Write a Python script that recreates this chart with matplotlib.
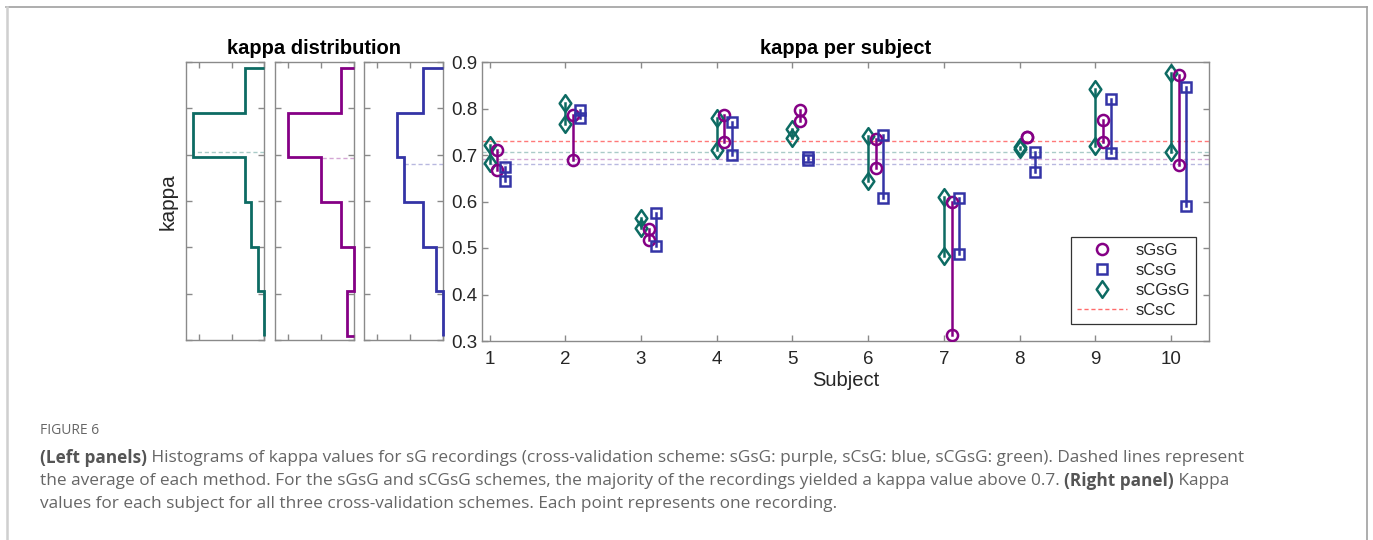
import numpy as np
import matplotlib
matplotlib.use("Agg")
import matplotlib.pyplot as plt
from matplotlib.lines import Line2D
from matplotlib.path import Path

# ---------------- data ----------------
subjects = [1, 2, 3, 4, 5, 6, 7, 8, 9, 10]
schemes = ["sGsG", "sCsG", "sCGsG"]
# two recordings per subject
sGsG = [[0.711, 0.668], [0.786, 0.689], [0.540, 0.517], [0.786, 0.729], [0.797, 0.774],
        [0.734, 0.671], [0.600, 0.313], [0.739, 0.739], [0.775, 0.729], [0.872, 0.678]]
sCsG = [[0.675, 0.645], [0.797, 0.779], [0.576, 0.504], [0.772, 0.701], [0.695, 0.689],
        [0.742, 0.607], [0.607, 0.487], [0.706, 0.663], [0.820, 0.704], [0.846, 0.590]]
sCGsG = [[0.722, 0.682], [0.812, 0.767], [0.564, 0.544], [0.779, 0.711], [0.755, 0.736],
         [0.741, 0.644], [0.610, 0.483], [0.717, 0.712], [0.843, 0.719], [0.876, 0.706]]
sCsC_mean = 0.731
hist_edges = [0.308, 0.405, 0.501, 0.598, 0.694, 0.791, 0.888]
yticks = [0.3, 0.4, 0.5, 0.6, 0.7, 0.8, 0.9]

# ---------------- style ----------------
GREEN = "#0d6b63"
PURPLE = "#850085"
BLUE = "#3434a6"
RED = "#ff6b6b"
SPINE = "#8a8a8a"
TXT = "#262626"
FONT = "Liberation Sans"

plt.rcParams["font.family"] = [FONT, "DejaVu Sans"]

# diamond a bit wider than matplotlib's thin diamond (MATLAB style)
DIAMOND = Path([(0, 1), (0.7, 0), (0, -1), (-0.7, 0), (0, 1)],
               [Path.MOVETO, Path.LINETO, Path.LINETO, Path.LINETO, Path.CLOSEPOLY])

fig = plt.figure(figsize=(13.73, 5.40), dpi=100)
W, H = 1373.0, 540.0

def ax_rect(x0, y0, x1, y1):
    return [x0 / W, 1 - y1 / H, (x1 - x0) / W, (y1 - y0) / H]

def style_axes(ax):
    for sp in ax.spines.values():
        sp.set_color(SPINE)
        sp.set_linewidth(1.0)
    ax.tick_params(direction="in", length=4, width=1.0, color=SPINE,
                   top=True, right=True, labelcolor=TXT, labelsize=13.5)

# ---------------- histogram panels ----------------
hist_specs = [(sCGsG, GREEN, (186, 62, 264, 340)),
              (sGsG, PURPLE, (275, 62, 354, 340)),
              (sCsG, BLUE, (364, 62, 443, 340))]
for vals, col, rect in hist_specs:
    ax = fig.add_axes(ax_rect(*rect))
    flat = np.array(vals).ravel()
    counts, _ = np.histogram(flat, bins=hist_edges)
    ax.stairs(counts, hist_edges, orientation="horizontal", baseline=0,
              color=col, linewidth=2.0, clip_on=False, zorder=3)
    m = flat.mean()
    idx = int(np.clip(np.searchsorted(hist_edges, m) - 1, 0, len(counts) - 1))
    ax.plot([0, counts[idx]], [m, m], ls=(0, (3, 2)), color=col, alpha=0.35, lw=1.0)
    ax.set_xlim(12, 0)
    ax.set_ylim(0.3, 0.9)
    ax.set_xticks([0, 5, 10])
    ax.set_yticks(yticks)
    ax.set_xticklabels([])
    ax.set_yticklabels([])
    style_axes(ax)

fig.text(314 / W, 1 - 48 / H, "kappa distribution", fontsize=14.5, fontweight="bold",
         ha="center", va="center", color="black")
fig.text(168 / W, 1 - 202 / H, "kappa", fontsize=15, rotation=90,
         ha="center", va="center", color=TXT)

# ---------------- main panel ----------------
ax = fig.add_axes(ax_rect(482, 62, 1209, 341))
series = [(sCGsG, GREEN, DIAMOND, 0.0, 12.0, "sCGsG"),
          (sGsG, PURPLE, "o", 0.1, 8.0, "sGsG"),
          (sCsG, BLUE, "s", 0.2, 7.0, "sCsG")]

means = {}
for vals, col, mk, off, ms, name in series:
    means[name] = np.array(vals).ravel().mean()

for name, col in [("sCGsG", GREEN), ("sGsG", PURPLE), ("sCsG", BLUE)]:
    ax.axhline(means[name], ls=(0, (3, 2)), color=col, alpha=0.35, lw=1.0, zorder=1)
ax.axhline(sCsC_mean, ls=(0, (3, 2)), color=RED, alpha=0.9, lw=1.0, zorder=1)

handles = {}
for vals, col, mk, off, ms, name in series:
    for s, pair in zip(subjects, vals):
        x = s + off
        ax.plot([x, x], [min(pair), max(pair)], color=col, lw=1.8, zorder=2)
        ax.plot([x, x], pair, ls="none", marker=mk, ms=ms, mew=1.8,
                mfc="none", mec=col, zorder=4)
    handles[name] = Line2D([], [], ls="none", marker=mk, ms=ms, mew=1.8,
                           mfc="none", mec=col)
handles["sCsC"] = Line2D([], [], ls=(0, (3, 2)), color=RED, lw=1.0)

ax.set_xlim(0.9, 10.5)
ax.set_ylim(0.3, 0.9)
ax.set_xticks(subjects)
ax.set_yticks(yticks)
ax.set_yticklabels([f"{v:.1f}" for v in yticks])
style_axes(ax)
ax.tick_params(axis="x", pad=7)
ax.set_title("kappa per subject", fontsize=14.5, fontweight="bold", pad=6)
ax.set_xlabel("Subject", fontsize=14.5, color=TXT, labelpad=2)

leg = ax.legend([handles[n] for n in ["sGsG", "sCsG", "sCGsG", "sCsC"]],
                ["sGsG", "sCsG", "sCGsG", "sCsC"],
                loc="lower right", bbox_to_anchor=(0.982, 0.061), fontsize=12,
                frameon=True, fancybox=False, framealpha=1, edgecolor="#333333",
                handlelength=3.0, handletextpad=0.5, labelspacing=0.3,
                borderpad=0.35, borderaxespad=0)
leg.get_frame().set_linewidth(0.9)
for t in leg.get_texts():
    t.set_color(TXT)

# ---------------- outer frame ----------------
fig.add_artist(Line2D([6 / W, 1367 / W], [1 - 6.5 / H, 1 - 6.5 / H], transform=fig.transFigure,
                      color="#a0a0a0", lw=1.2))
fig.add_artist(Line2D([7 / W, 7 / W], [0, 1 - 6.5 / H], transform=fig.transFigure,
                      color="#cfcfcf", lw=1.8))
fig.add_artist(Line2D([1367 / W, 1367 / W], [0, 1 - 6.5 / H], transform=fig.transFigure,
                      color="#a0a0a0", lw=1.2))

# ---------------- caption ----------------
CAP_FONT = ["Open Sans", "DejaVu Sans"]
CAP_COL = "#666666"
fig.text(40 / W, 1 - 431 / H, "FIGURE 6", fontsize=10, color=CAP_COL,
         family=CAP_FONT, ha="left", va="center")

renderer = fig.canvas.get_renderer()

def rich_line(y_px, segments, size=12.4):
    x = 40 / W
    for txt, bold in segments:
        t = fig.text(x, 1 - y_px / H, txt, fontsize=size, family=CAP_FONT,
                     fontweight="bold" if bold else "normal",
                     color="#555555" if bold else CAP_COL, ha="left", va="center")
        bb = t.get_window_extent(renderer=renderer)
        x = bb.x1 / fig.bbox.width

rich_line(458, [("(Left panels)", True),
                (" Histograms of kappa values for sG recordings (cross-validation scheme: sGsG: purple, "
                 "sCsG: blue, sCGsG: green). Dashed lines represent", False)])
rich_line(481, [("the average of each method. For the sGsG and sCGsG schemes, the majority of the "
                 "recordings yielded a kappa value above 0.7. ", False),
                ("(Right panel)", True), (" Kappa", False)])
rich_line(504, [("values for each subject for all three cross-validation schemes. Each point "
                 "represents one recording.", False)])

fig.savefig("out.png", dpi=100)
